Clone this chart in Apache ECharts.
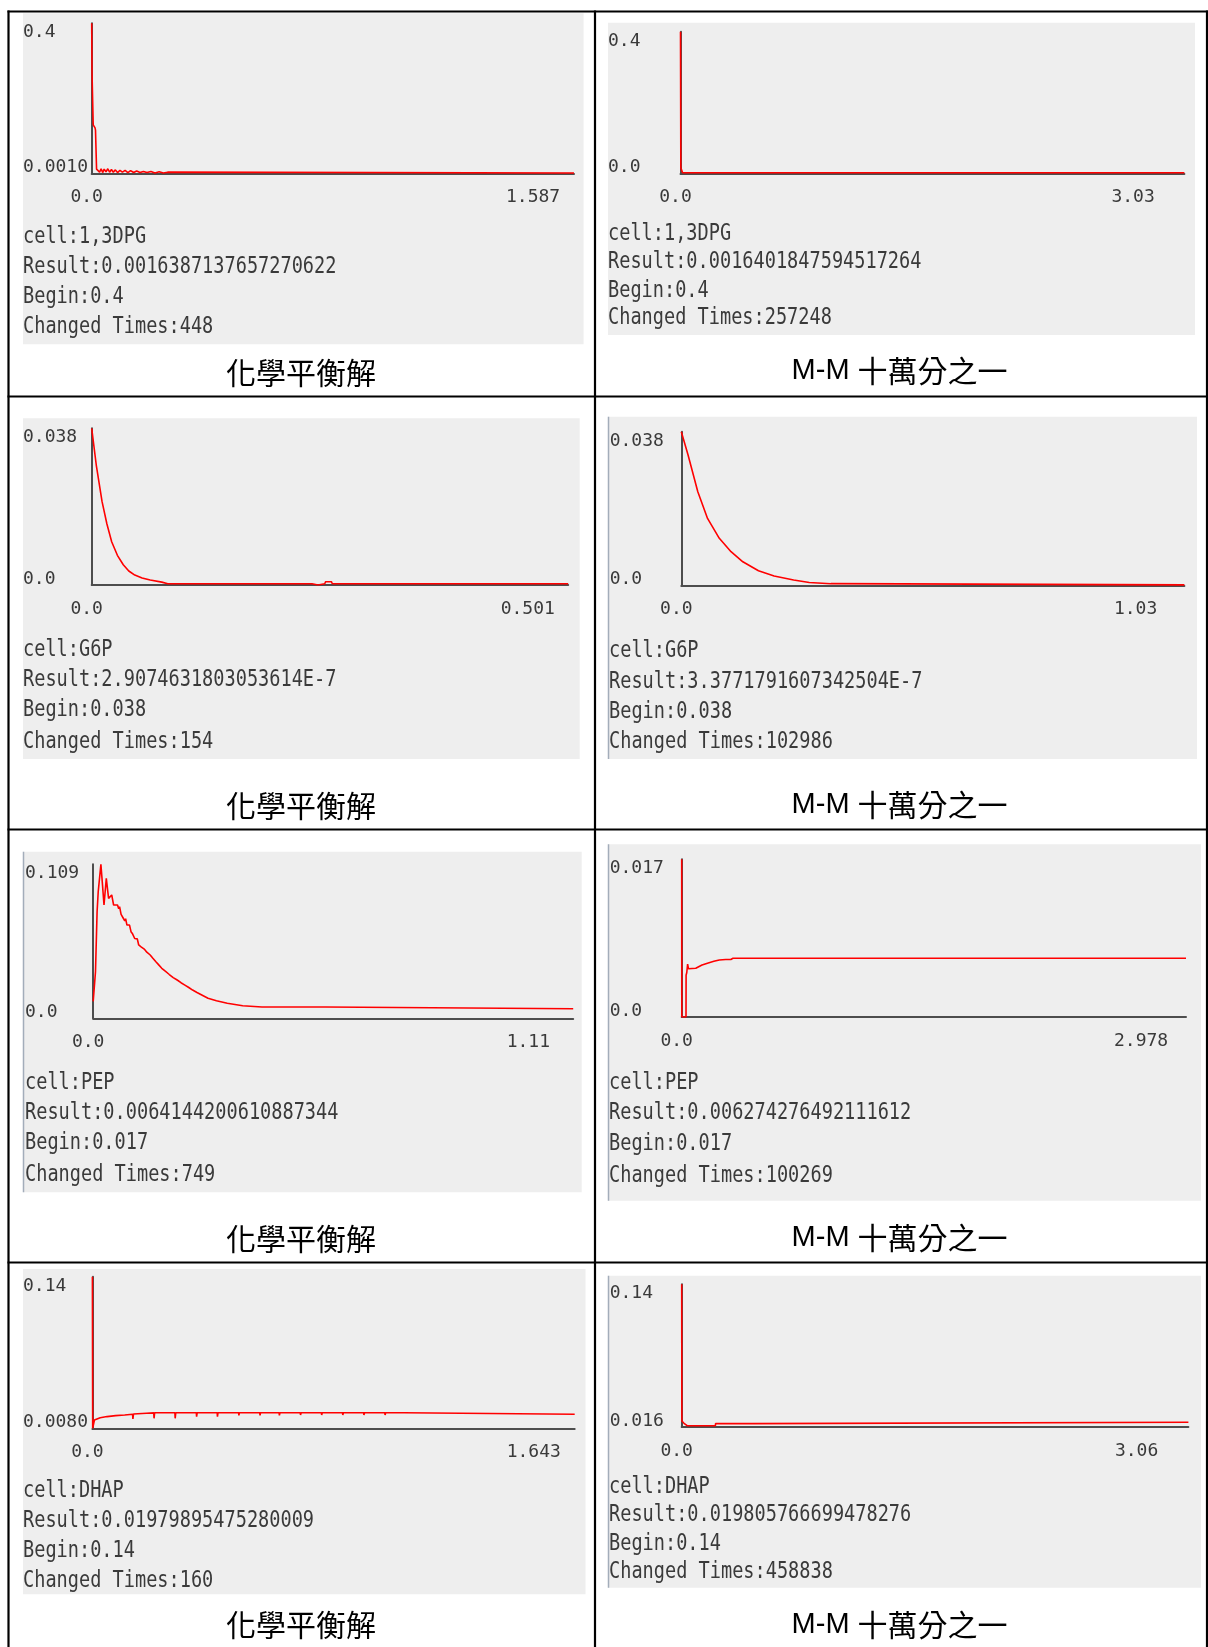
<!DOCTYPE html>
<html>
<head>
<meta charset="utf-8">
<title>cell simulation results</title>
<script src="https://cdn.jsdelivr.net/npm/echarts@6/dist/echarts.min.js"></script>
<style>
  html, body { margin: 0; padding: 0; background: #fff; }
  #chart { width: 1208px; height: 1647px; }
</style>
</head>
<body>
<div id="chart"></div>
<script>
// ---- data: [time, value] ----
const dpgChem = [[0,0.4],[0.001,0.27],[0.004,0.27],[0.005,0.13],[0.011,0.122],[0.0125,0.116],[0.016,0.012],
  [0.021,0.014],[0.026,0.004],[0.031,0.013],[0.036,0.003],[0.041,0.012],[0.047,0.005],[0.053,0.013],[0.059,0.004],
  [0.065,0.011],[0.071,0.004],[0.078,0.010],[0.085,0.003],[0.093,0.009],[0.101,0.004],[0.110,0.009],[0.119,0.003],
  [0.128,0.008],[0.138,0.003],[0.148,0.007],[0.159,0.003],[0.170,0.006],[0.182,0.003],[0.195,0.006],[0.208,0.002],
  [0.222,0.005],[0.236,0.002],[0.250,0.004],[0.256,0.0016],[1.587,0.0016]];
const dpgMM = [[0,0.4],[0.002,0.016],[0.008,0.012],[0.012,0.002],[3.03,0.0016]];
const g6pChem = [[0,0.038],[0.0048,0.0291],[0.0109,0.0202],[0.016,0.0148],[0.021,0.0105],[0.027,0.0072],
  [0.0332,0.0049],[0.039,0.0034],[0.0453,0.0024],[0.053,0.0017],[0.0615,0.0012],[0.0737,0.0007],[0.08,0.0003],
  [0.2316,0.0003],[0.2326,0],[0.238,0],[0.239,0.0003],[0.245,0.0003],[0.246,0.0008],[0.252,0.0008],[0.253,0.0003],
  [0.501,0.0003]];
const g6pMM = [[0,0.038],[0.0137,0.0323],[0.0338,0.0232],[0.0537,0.0166],[0.0778,0.0117],[0.1018,0.0084],
  [0.126,0.0059],[0.158,0.0037],[0.19,0.0024],[0.23,0.0014],[0.262,0.0008],[0.306,0.0005],[0.307,0.0002],[1.03,0.0002]];
const pepChem = [[0,0.012],[0.0053,0.033],[0.009,0.0754],[0.0116,0.0896],[0.0178,0.109],[0.0215,0.0944],
  [0.025,0.0802],[0.0303,0.0991],[0.0356,0.0849],[0.0428,0.0873],[0.0472,0.0802],[0.0562,0.0802],[0.059,0.0775],
  [0.061,0.079],[0.0645,0.0735],[0.067,0.0745],[0.0696,0.0708],[0.073,0.069],[0.075,0.0705],[0.078,0.066],
  [0.082,0.0648],[0.084,0.066],[0.0874,0.0613],[0.091,0.0598],[0.093,0.061],[0.096,0.0565],[0.1,0.0552],
  [0.102,0.0562],[0.1052,0.0519],[0.11,0.0508],[0.113,0.0515],[0.118,0.049],[0.124,0.0468],[0.127,0.0474],
  [0.1318,0.0448],[0.138,0.0425],[0.141,0.043],[0.145,0.040],[0.151,0.038],[0.154,0.0386],[0.1586,0.0354],
  [0.166,0.0335],[0.169,0.034],[0.176,0.031],[0.185,0.0288],[0.188,0.0293],[0.1942,0.0271],[0.203,0.0252],
  [0.206,0.0257],[0.212,0.0235],[0.221,0.0218],[0.224,0.0222],[0.2299,0.02],[0.24,0.0183],[0.243,0.0186],
  [0.2655,0.0142],[0.285,0.0124],[0.288,0.0127],[0.31,0.0106],[0.3457,0.0089],[0.3903,0.008],[0.537,0.008],
  [0.538,0.0068],[1.11,0.0068]];
const pepMM = [[0,0.017],[0.0005,0],[0.0254,0],[0.026,0.0045],[0.03,0.0048],[0.035,0.0057],[0.04,0.0052],
  [0.049,0.0051],[0.083,0.00525],[0.12,0.0056],[0.152,0.0058],[0.19,0.006],[0.222,0.00615],[0.26,0.0062],
  [0.29,0.0062],[0.303,0.00633],[2.978,0.00633]];
const dhapChem = [[0,0.14],[0.001,0.008],[0.0068,0.0152],[0.0265,0.0172],[0.05,0.0182],[0.079,0.019],[0.11,0.0196],
  [0.137,0.0202],[0.138,0.0161],[0.14,0.0204],[0.184,0.0211],[0.209,0.0214],[0.21,0.0167],[0.212,0.0216],
  [0.281,0.0216],[0.282,0.0167],[0.284,0.0216],[0.354,0.0216],[0.355,0.0181],[0.357,0.0216],[0.425,0.0216],
  [0.426,0.0181],[0.428,0.0216],[0.498,0.0216],[0.499,0.0193],[0.501,0.0216],[0.570,0.0216],[0.571,0.0193],
  [0.573,0.0216],[0.636,0.0216],[0.637,0.0193],[0.639,0.0216],[0.708,0.0216],[0.709,0.0196],[0.711,0.0216],
  [0.780,0.0216],[0.781,0.0196],[0.783,0.0216],[0.852,0.0216],[0.853,0.0196],[0.855,0.0216],[0.924,0.0216],
  [0.925,0.0196],[0.927,0.0216],[0.996,0.0216],[0.997,0.0196],[0.999,0.0216],[1.062,0.0216],[1.063,0.0202],
  [1.643,0.0202]];
const dhapMM = [[0,0.14],[0.001,0.0212],[0.014,0.0192],[0.033,0.0171],[0.2035,0.0171],[0.2045,0.0189],
  [0.428,0.0189],[0.429,0.0201],[3.06,0.0201]];

const panelData = [dpgChem, dpgMM, g6pChem, g6pMM, pepChem, pepMM, dhapChem, dhapMM];

// axis ranges and tick labels
const xMax = [1.587, 3.03, 0.501, 1.03, 1.11, 2.978, 1.643, 3.06];
const xMaxLabels = ['1.587', '3.03', '0.501', '1.03', '1.11', '2.978', '1.643', '3.06'];
const yMin = [0.001, 0, 0, 0, 0, 0, 0.008, 0.016];
const yMax = [0.4, 0.4, 0.038, 0.038, 0.109, 0.017, 0.14, 0.14];
const yMinLabels = ['0.0010', '0.0', '0.0', '0.0', '0.0', '0.0', '0.0080', '0.016'];
const yMaxLabels = ['0.4', '0.4', '0.038', '0.038', '0.109', '0.017', '0.14', '0.14'];

// texts under each plot
const cellNames = ['1,3DPG', '1,3DPG', 'G6P', 'G6P', 'PEP', 'PEP', 'DHAP', 'DHAP'];
const results = ['0.0016387137657270622', '0.0016401847594517264', '2.9074631803053614E-7', '3.3771791607342504E-7',
  '0.0064144200610887344', '0.006274276492111612', '0.01979895475280009', '0.019805766699478276'];
const begins = ['0.4', '0.4', '0.038', '0.038', '0.017', '0.017', '0.14', '0.14'];
const changedTimes = ['448', '257248', '154', '102986', '749', '100269', '160', '458838'];
const captions = ['化學平衡解', 'M-M 十萬分之一', '化學平衡解', 'M-M 十萬分之一',
  '化學平衡解', 'M-M 十萬分之一', '化學平衡解', 'M-M 十萬分之一'];

// ---- layout (pixels) ----
const layout = [
  { grid: [91.7, 23.3, 482.3, 150], bg: [23, 13.3, 560.6, 331], tx: 23, ty: [237, 267, 297, 327], cap: [301, 372.5], ym: 68.7, xw: 136, edge: false },
  { grid: [680.5, 31.7, 503.9, 141.6], bg: [608, 22.7, 587, 312.3], tx: 608, ty: [233.5, 261.5, 290.5, 318], cap: [899.6, 370.5], ym: 72.5, xw: 146, edge: false },
  { grid: [91.7, 428.3, 476.5, 156.7], bg: [23, 418.3, 556.7, 340.7], tx: 23, ty: [650, 680, 710, 741.5], cap: [301, 805.5], ym: 68.7, xw: 135, edge: false },
  { grid: [681.3, 431.7, 503.1, 154], bg: [608, 416.7, 589, 342.3], tx: 609, ty: [651, 681.5, 711.5, 741.5], cap: [899.6, 805], ym: 71.6, xw: 141, edge: true },
  { grid: [93.2, 864.3, 480, 154], bg: [23, 851.7, 558.7, 340.6], tx: 25, ty: [1083, 1113, 1143, 1174.5], cap: [301, 1239], ym: 68.2, xw: 133, edge: true },
  { grid: [681.7, 859.3, 504.3, 157.7], bg: [608, 844.3, 593, 356.4], tx: 609, ty: [1082.5, 1113, 1143.8, 1175.5], cap: [899.6, 1238], ym: 72, xw: 144, edge: true },
  { grid: [92.4, 1276.7, 482.3, 151.6], bg: [23, 1269, 562.5, 325.3], tx: 23, ty: [1491, 1520.5, 1550.5, 1580.5], cap: [301, 1625], ym: 69.4, xw: 136, edge: false },
  { grid: [681.7, 1284.3, 506.7, 142.7], bg: [608, 1275.7, 593, 312], tx: 609, ty: [1486.5, 1515, 1543.5, 1571.5], cap: [899.6, 1625], ym: 72, xw: 147, edge: true }
];

const MONO = 'DejaVu Sans Mono';
const CJK = 'Noto Sans CJK TC';
const TXT = '#3a3a3a';
const AXIS = '#4d4d4d';

const chart = echarts.init(document.getElementById('chart'));

const grids = [], xAxes = [], yAxes = [], series = [], graphics = [];

panelData.forEach((data, i) => {
  const L = layout[i];
  grids.push({ left: L.grid[0], top: L.grid[1], width: L.grid[2], height: L.grid[3], show: false });

  xAxes.push({
    type: 'value', gridIndex: i, min: 0, max: xMax[i],
    axisLine: { show: true, onZero: false, lineStyle: { color: AXIS, width: 2 } },
    axisTick: { show: false },
    splitLine: { show: false },
    axisLabel: {
      customValues: [0, xMax[i]],
      margin: 15,
      color: TXT, fontFamily: MONO, fontSize: 18,
      formatter: v => v < xMax[i] / 2 ? '{z|0.0}' : '{m|' + xMaxLabels[i] + '}',
      rich: {
        z: { padding: [0, 10, 0, 0], color: TXT, fontFamily: MONO, fontSize: 18 },
        m: { width: L.xw, align: 'left', color: TXT, fontFamily: MONO, fontSize: 18 }
      }
    }
  });

  yAxes.push({
    type: 'value', gridIndex: i, min: yMin[i], max: yMax[i],
    axisLine: { show: true, onZero: false, lineStyle: { color: AXIS, width: 2 } },
    axisTick: { show: false },
    splitLine: { show: false },
    axisLabel: {
      customValues: [yMin[i], yMax[i]],
      margin: L.ym,
      align: 'left',
      color: TXT, fontFamily: MONO, fontSize: 18,
      formatter: v => v < (yMin[i] + yMax[i]) / 2 ? '{b|' + yMinLabels[i] + '}' : '{t|' + yMaxLabels[i] + '}',
      rich: {
        t: { padding: [19, 0, 0, 0], color: TXT, fontFamily: MONO, fontSize: 18 },
        b: { padding: [0, 0, 12, 0], color: TXT, fontFamily: MONO, fontSize: 18 }
      }
    }
  });

  series.push({
    type: 'line', xAxisIndex: i, yAxisIndex: i, data: data,
    showSymbol: false, symbol: 'none', silent: true,
    lineStyle: { color: '#ff0000', width: 1.6 }
  });

  // gray panel behind plot and its texts
  graphics.push({
    type: 'rect', z: -10, silent: true,
    shape: { x: L.bg[0], y: L.bg[1], width: L.bg[2], height: L.bg[3] },
    style: { fill: '#eeeeee' }
  });
  if (L.edge) {
    graphics.push({
      type: 'line', z: -5, silent: true,
      shape: { x1: L.bg[0] + 0.5, y1: L.bg[1], x2: L.bg[0] + 0.5, y2: L.bg[1] + L.bg[3] },
      style: { stroke: '#a3adba', lineWidth: 1.5 }
    });
  }

  const lines = ['cell:' + cellNames[i], 'Result:' + results[i], 'Begin:' + begins[i], 'Changed Times:' + changedTimes[i]];
  lines.forEach((t, k) => {
    graphics.push({
      type: 'text', z: 10, silent: true, x: L.tx, y: L.ty[k], scaleY: 1.28,
      style: { text: t, x: 0, y: 0, fill: TXT, font: '18.6px "' + MONO + '"', align: 'left', verticalAlign: 'middle', textAlign: 'left', textVerticalAlign: 'middle' }
    });
  });

  const m = captions[i].match(/^([\x00-\x7f]*)(.*)$/);
  const capText = (m[1] ? '{a|' + m[1] + '}' : '') + '{b|' + m[2] + '}';
  graphics.push({
    type: 'text', z: 10, silent: true, x: L.cap[0], y: L.cap[1],
    style: {
      text: capText, x: 0, y: 0, align: 'center', verticalAlign: 'middle', textAlign: 'center', textVerticalAlign: 'middle',
      rich: {
        a: { fontFamily: 'Liberation Sans Narrow, Liberation Sans', fontSize: 29, fill: '#000' },
        b: { fontFamily: CJK, fontSize: 30, fill: '#000' }
      }
    }
  });
});

// table rules
const hRules = [11.5, 396.5, 829.5, 1262.5];
const vRules = [8.5, 595, 1207];
hRules.forEach(y => graphics.push({
  type: 'line', z: 20, silent: true,
  shape: { x1: 7.5, y1: y, x2: 1208, y2: y }, style: { stroke: '#000', lineWidth: 2.2 }
}));
vRules.forEach(x => graphics.push({
  type: 'line', z: 20, silent: true,
  shape: { x1: x, y1: 10.5, x2: x, y2: 1647 }, style: { stroke: '#000', lineWidth: 2.2 }
}));

chart.setOption({
  animation: false,
  grid: grids,
  xAxis: xAxes,
  yAxis: yAxes,
  series: series,
  graphic: { elements: graphics }
});
</script>
</body>
</html>
